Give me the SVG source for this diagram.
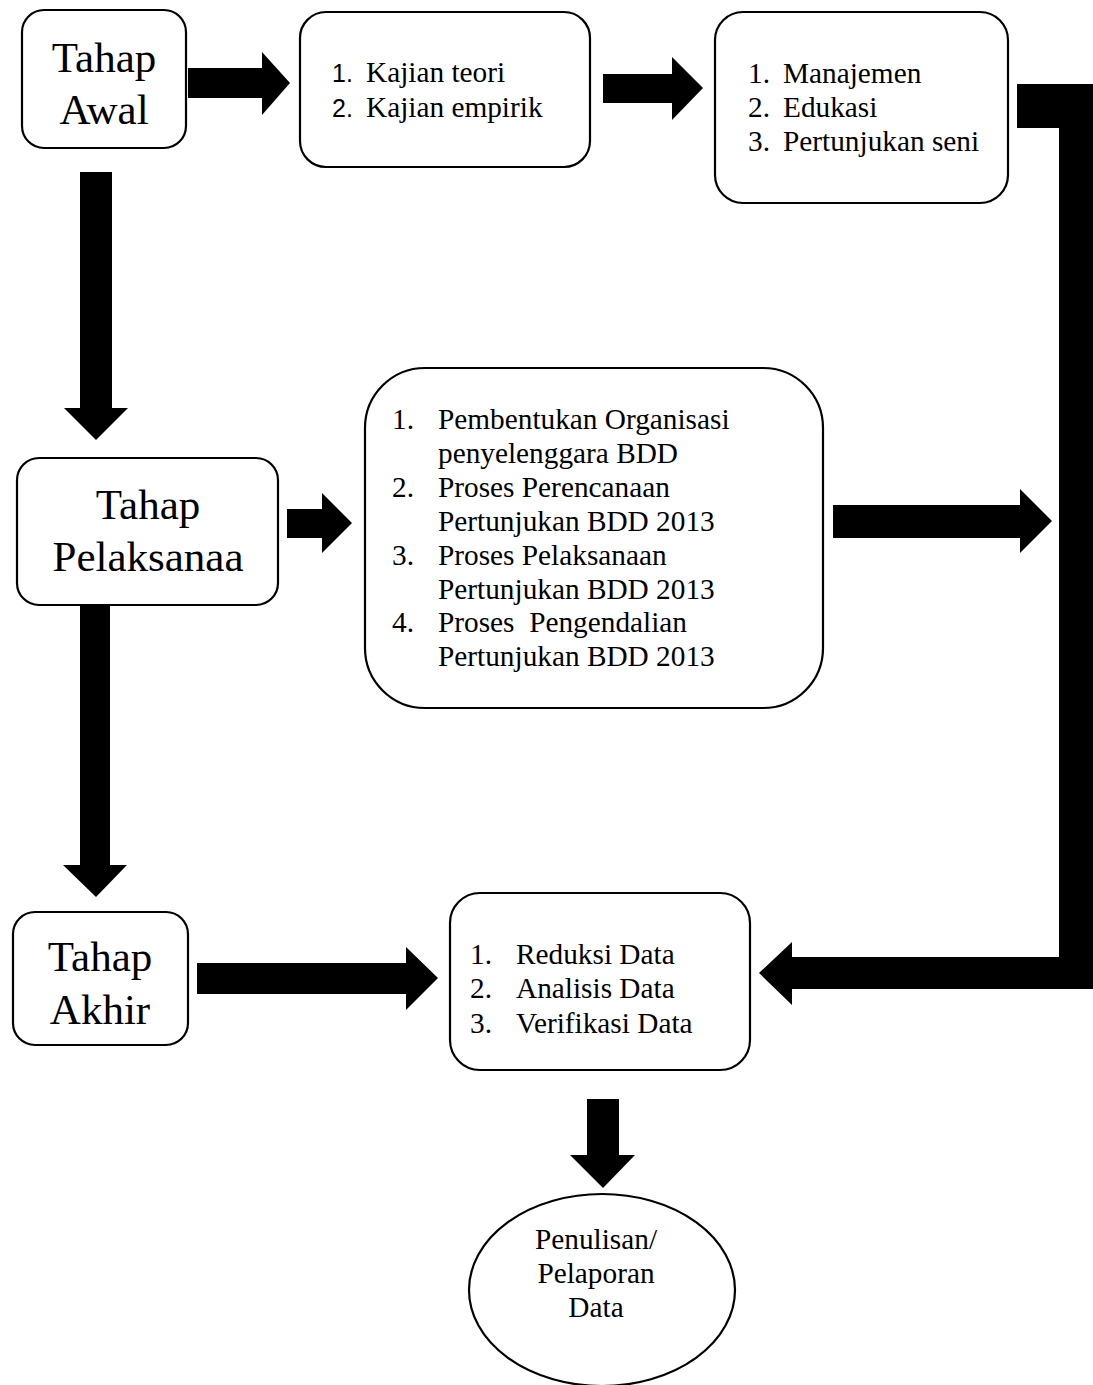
<svg xmlns="http://www.w3.org/2000/svg" width="1093" height="1385" viewBox="0 0 1093 1385">
<style>
.box{fill:#fff;stroke:#000;stroke-width:2.2}
.t{font-family:"Liberation Serif","Times New Roman",serif;font-size:29.3px;fill:#000}
.big{font-family:"Liberation Serif","Times New Roman",serif;font-size:43px;fill:#000;text-anchor:middle}
.sn{font-family:"Liberation Sans",Arial,sans-serif;font-size:25px;fill:#000}
.arr{fill:#000}
</style>
<rect width="1093" height="1385" fill="#fff"/>
<g id="connectors">
<polygon class="arr" points="188,68 262,68 262,52 290,83 262,115 262,98 188,98"/>
<polygon class="arr" points="603,74 672,74 672,57 703,88 672,120 672,103 603,103"/>
<polygon class="arr" points="80,172 112,172 112,408 128,408 96,440 64,408 80,408"/>
<polygon class="arr" points="287,509 322,509 322,493 352,523 322,553 322,538 287,538"/>
<polygon class="arr" points="833,505 1020,505 1020,489 1052,521 1020,553 1020,538 833,538"/>
<polygon class="arr" points="80,605 110,605 110,865 127,865 96,897 63,865 80,865"/>
<polygon class="arr" points="197,963 406,963 406,947 438,978 406,1010 406,994 197,994"/>
<polygon class="arr" points="1017,84 1093,84 1093,989 792,989 792,1005 759,973 792,942 792,957 1059,957 1059,128 1017,128"/>
<polygon class="arr" points="587,1099 619,1099 619,1155 635,1155 603,1188 570,1155 587,1155"/>
</g>
<g id="tahap-awal">
<rect class="box" x="22" y="10" width="164" height="138" rx="22"/>
<text class="big" x="104" y="72">Tahap</text>
<text class="big" x="104" y="124">Awal</text>
</g>
<g id="kajian">
<rect class="box" x="300" y="12" width="290" height="155" rx="26"/>
<text class="sn" x="332" y="82">1.</text>
<text class="t" x="366" y="82">Kajian teori</text>
<text class="sn" x="332" y="117">2.</text>
<text class="t" x="366" y="117">Kajian empirik</text>
</g>
<g id="manajemen">
<rect class="box" x="715" y="12" width="293" height="191" rx="28"/>
<text class="t" x="748" y="83">1.</text>
<text class="t" x="783" y="83">Manajemen</text>
<text class="t" x="748" y="117">2.</text>
<text class="t" x="783" y="117">Edukasi</text>
<text class="t" x="748" y="151">3.</text>
<text class="t" x="783" y="151">Pertunjukan seni</text>
</g>
<g id="tahap-pelaksanaa">
<rect class="box" x="17" y="458" width="261" height="147" rx="22"/>
<text class="big" x="148" y="519">Tahap</text>
<text class="big" x="148" y="571">Pelaksanaa</text>
</g>
<g id="organisasi">
<rect class="box" x="365" y="368" width="458" height="340" rx="60"/>
<text class="t" x="392" y="429">1.</text>
<text class="t" x="438" y="429">Pembentukan Organisasi</text>
<text class="t" x="438" y="463">penyelenggara BDD</text>
<text class="t" x="392" y="497">2.</text>
<text class="t" x="438" y="497">Proses Perencanaan</text>
<text class="t" x="438" y="531">Pertunjukan BDD 2013</text>
<text class="t" x="392" y="565">3.</text>
<text class="t" x="438" y="565">Proses Pelaksanaan</text>
<text class="t" x="438" y="599">Pertunjukan BDD 2013</text>
<text class="t" x="392" y="632">4.</text>
<text class="t" x="438" y="632" xml:space="preserve">Proses  Pengendalian</text>
<text class="t" x="438" y="666">Pertunjukan BDD 2013</text>
</g>
<g id="tahap-akhir">
<rect class="box" x="13" y="912" width="175" height="133" rx="22"/>
<text class="big" x="100" y="971">Tahap</text>
<text class="big" x="100" y="1024">Akhir</text>
</g>
<g id="reduksi">
<rect class="box" x="450" y="893" width="300" height="177" rx="30"/>
<text class="t" x="470" y="964">1.</text>
<text class="t" x="516" y="964">Reduksi Data</text>
<text class="t" x="470" y="998">2.</text>
<text class="t" x="516" y="998">Analisis Data</text>
<text class="t" x="470" y="1033">3.</text>
<text class="t" x="516" y="1033">Verifikasi Data</text>
</g>
<g id="penulisan">
<ellipse class="box" cx="602" cy="1290" rx="133" ry="96"/>
<text class="t" x="596" y="1249" text-anchor="middle">Penulisan/</text>
<text class="t" x="596" y="1283" text-anchor="middle">Pelaporan</text>
<text class="t" x="596" y="1317" text-anchor="middle">Data</text>
</g>
</svg>
